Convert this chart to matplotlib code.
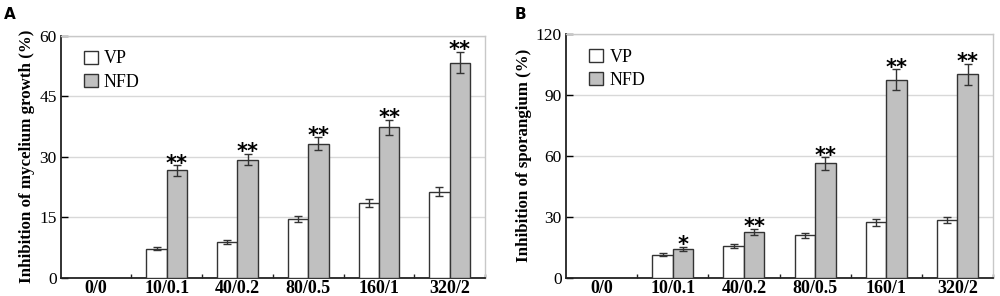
import matplotlib
matplotlib.use("Agg")
import matplotlib.pyplot as plt
import numpy as np
from matplotlib.patches import Patch

categories = ["0/0", "10/0.1", "40/0.2", "80/0.5", "160/1", "320/2"]

# Panel A: inhibition of mycelium growth (%)
a_vp = [0, 7.2, 8.7, 14.5, 18.6, 21.3]
a_vp_err = [0, 0.4, 0.5, 0.8, 1.0, 1.1]
a_nfd = [0, 26.6, 29.3, 33.2, 37.3, 53.4]
a_nfd_err = [0, 1.3, 1.4, 1.6, 1.9, 2.7]
a_sig = ["", "**", "**", "**", "**", "**"]

# Panel B: inhibition of sporangium (%)
b_vp = [0, 11.3, 15.5, 20.8, 27.2, 28.4]
b_vp_err = [0, 0.8, 1.0, 1.2, 1.6, 1.6]
b_nfd = [0, 14.1, 22.5, 56.2, 97.5, 100.2]
b_nfd_err = [0, 1.1, 1.6, 3.0, 5.0, 5.2]
b_sig = ["", "*", "**", "**", "**", "**"]

SERIF = ["Liberation Serif", "DejaVu Serif"]

fig = plt.figure(figsize=(10, 2.96), dpi=100)


def panel(rect, vp, vp_err, nfd, nfd_err, sig, ymax, ystep, ylabel, letter, letter_x):
    ax = fig.add_axes(rect)
    n = len(categories)
    centers = np.arange(n) + 0.5
    w = 0.287
    ekw = dict(ecolor="#333333", elinewidth=1.0, capsize=3, capthick=1.0)
    mask = np.array(vp) > 0
    ax.bar(centers[mask] - w / 2, np.array(vp)[mask], w, yerr=np.array(vp_err)[mask],
           color="white", edgecolor="#333333", linewidth=1.0, error_kw=ekw, zorder=3)
    mask2 = np.array(nfd) > 0
    ax.bar(centers[mask2] + w / 2, np.array(nfd)[mask2], w, yerr=np.array(nfd_err)[mask2],
           color="#c0c0c0", edgecolor="#333333", linewidth=1.0, error_kw=ekw, zorder=3)
    for c, v, e, s in zip(centers, nfd, nfd_err, sig):
        if s:
            ax.text(c + w / 2, v + e - ymax * 0.035, s, ha="center", va="bottom",
                    fontsize=15, fontweight="bold", family="DejaVu Sans", zorder=4)
    ax.set_xlim(0, n)
    ax.set_ylim(0, ymax)
    ax.set_yticks(np.arange(0, ymax + 1, ystep))
    ax.set_xticks(np.arange(1, n + 1))
    ax.set_xticklabels([])
    ax.set_xticks(centers, minor=True)
    ax.set_xticklabels(categories, minor=True, fontsize=13, fontweight="bold", family=SERIF)
    ax.tick_params(axis="x", which="major", direction="in", length=3, width=1, color="#222222")
    ax.tick_params(axis="x", which="minor", length=0, pad=2)
    ax.tick_params(axis="y", direction="in", length=5, width=1, labelsize=12.5, pad=3)
    for lab in ax.get_yticklabels():
        lab.set_family(SERIF)
    ax.grid(axis="y", color="#d8d8d8", linewidth=1.0, zorder=0)
    ax.set_axisbelow(True)
    for sp in ["top", "right"]:
        ax.spines[sp].set_color("#c8c8c8")
        ax.spines[sp].set_linewidth(1.0)
    for sp in ["left", "bottom"]:
        ax.spines[sp].set_color("#222222")
        ax.spines[sp].set_linewidth(1.3)
    ax.set_ylabel(ylabel, fontsize=12.2, fontweight="bold", family=SERIF, labelpad=3)
    handles = [Patch(facecolor="white", edgecolor="#333333", label="VP"),
               Patch(facecolor="#c0c0c0", edgecolor="#333333", label="NFD")]
    ax.legend(handles=handles, loc="upper left", frameon=False,
              prop={"family": SERIF, "size": 13}, handlelength=0.75, handleheight=0.75,
              handletextpad=0.35, labelspacing=0.35, borderpad=0, borderaxespad=0,
              bbox_to_anchor=(0.055, 0.94))
    fig.text(letter_x, 0.975, letter, fontsize=11, fontweight="bold",
             family="DejaVu Sans", va="top", ha="left")
    return ax


panel([0.0607, 0.0625, 0.4243, 0.816], a_vp, a_vp_err, a_nfd, a_nfd_err, a_sig,
      60, 15, "Inhibition of mycelium growth (%)", "A", 0.004)
panel([0.566, 0.0625, 0.427, 0.823], b_vp, b_vp_err, b_nfd, b_nfd_err, b_sig,
      120, 30, "Inhibition of sporangium (%)", "B", 0.515)

fig.savefig("out.png", dpi=100)
